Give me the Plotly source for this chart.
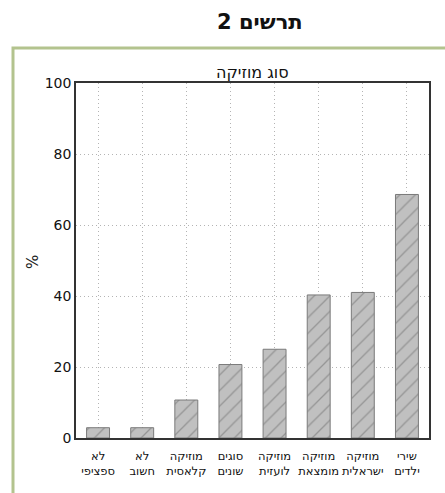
import plotly.graph_objects as go

# Music-type survey results (percent of respondents)
categories = [
    "לא<br>ספציפי",
    "לא<br>חשוב",
    "מוזיקה<br>קלאסית",
    "סוגים<br>שונים",
    "מוזיקה<br>לועזית",
    "מוזיקה<br>מומצאת",
    "מוזיקה<br>ישראלית",
    "שירי<br>ילדים",
]
percent = [2.9, 2.9, 10.7, 20.7, 25.0, 40.3, 41.0, 68.6]
y_ticks = [0, 20, 40, 60, 80, 100]

FONT = "DejaVu Sans"
W, H = 445, 493
L, R, T, B = 76, 16, 83, 55
PW, PH = W - L - R, H - T - B

fig = go.Figure()
fig.add_trace(go.Bar(
    x=list(range(len(categories))),
    y=percent,
    width=0.52,
    marker=dict(
        color="#c0c0c0",
        line=dict(color="#7a7a7a", width=1),
        pattern=dict(shape="/", fgcolor="#6a6a6a", bgcolor="#c0c0c0",
                     size=11, solidity=0.12),
    ),
    hoverinfo="skip",
))

grid = dict(showgrid=True, gridcolor="#b4b4b4", griddash="1px,3px", gridwidth=1)

fig.update_xaxes(
    range=[-0.5, 7.5],
    tickmode="array",
    tickvals=list(range(len(categories))),
    ticktext=categories,
    tickangle=0,
    automargin=False,
    ticklabelstandoff=6,
    tickfont=dict(family=FONT, size=11.5, color="#111111"),
    showline=True, linecolor="#333333", linewidth=1.5, mirror=True,
    ticks="", zeroline=False,
    **grid,
)
fig.update_yaxes(
    range=[0, 100],
    tickmode="array",
    tickvals=y_ticks,
    automargin=False,
    tickfont=dict(family=FONT, size=14, color="#111111"),
    showline=True, linecolor="#333333", linewidth=1.5, mirror=True,
    ticks="", zeroline=False,
    **grid,
)

fig.update_layout(
    width=W, height=H,
    margin=dict(l=L, r=R, t=T, b=B),
    paper_bgcolor="white",
    plot_bgcolor="white",
    showlegend=False,
    shapes=[
        # green frame around the chart panel
        dict(type="rect", xref="paper", yref="paper",
             x0=-(L - 13) / PW, x1=1.3,
             y0=-0.3, y1=1 + (T - 48) / PH,
             line=dict(color="#b3c38e", width=3), fillcolor="rgba(0,0,0,0)",
             layer="below"),
    ],
    annotations=[
        dict(text="<b>תרשים 2</b>", xref="paper", yref="paper",
             x=(260 - L) / PW, y=1 + (T - 22) / PH,
             showarrow=False, xanchor="center", yanchor="middle",
             font=dict(family=FONT, size=21, color="#111111")),
        dict(text="סוג מוזיקה", xref="paper", yref="paper",
             x=0.5, y=1 + (T - 72) / PH,
             showarrow=False, xanchor="center", yanchor="middle",
             font=dict(family=FONT, size=16, color="#111111")),
        dict(text="%", xref="paper", yref="paper",
             x=(33 - L) / PW, y=(H - B - 262) / PH,
             showarrow=False, xanchor="center", yanchor="middle", textangle=-90,
             font=dict(family=FONT, size=15, color="#222222")),
    ],
)

fig.write_html("out.html")
